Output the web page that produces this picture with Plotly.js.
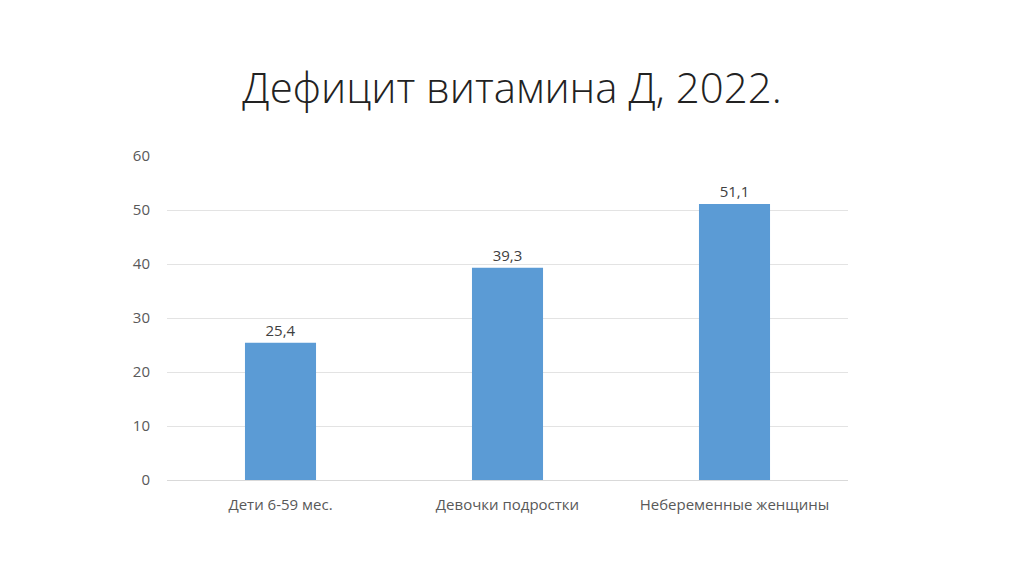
<!DOCTYPE html>
<html>
<head>
<meta charset="utf-8">
<script src="https://cdn.plot.ly/plotly-3.0.1.min.js"></script>
<style>
  html, body { margin: 0; padding: 0; background: #ffffff; }
  #chart { width: 1024px; height: 574px; }
</style>
</head>
<body>
<div id="chart"></div>
<script>
var categories = ["Дети 6-59 мес.", "Девочки подростки", "Небеременные женщины"];
var values = [25.4, 39.3, 51.1];
var valueLabels = ["25,4", "39,3", "51,1"];
var yTicks = [0, 10, 20, 30, 40, 50, 60];

function plotVitaminD() {
  var bars = {
    x: categories,
    y: values,
    type: "bar",
    text: valueLabels,
    textposition: "outside",
    cliponaxis: false,
    textfont: { family: "Open Sans, sans-serif", size: 15, color: "#404040" },
    marker: { color: "#5b9bd5" },
    hoverinfo: "none"
  };
  var layout = {
    width: 1024,
    height: 574,
    paper_bgcolor: "#ffffff",
    plot_bgcolor: "#ffffff",
    margin: { l: 167, r: 176, t: 156, b: 94 },
    bargap: 0.687,
    showlegend: false,
    font: { family: "Open Sans, sans-serif", color: "#595959", size: 15 },
    title: {
      text: "Дефицит витамина Д, 2022.",
      font: { family: "Open Sans, sans-serif", size: 42, color: "#222222", weight: 300 },
      x: 0.5,
      xanchor: "center",
      y: 1 - 88 / 574,
      yanchor: "middle",
      yref: "container"
    },
    xaxis: {
      type: "category",
      showgrid: false,
      showline: true,
      linecolor: "#d9d9d9",
      linewidth: 1,
      ticks: "",
      tickfont: { size: 15, color: "#595959" },
      ticklabelstandoff: 11
    },
    yaxis: {
      range: [0, 60],
      tickvals: yTicks,
      ticktext: yTicks.map(String),
      showgrid: true,
      gridcolor: "#e3e3e3",
      gridwidth: 1,
      zeroline: false,
      showline: false,
      ticks: "",
      tickfont: { size: 15, color: "#595959" },
      ticklabelstandoff: 16
    }
  };
  Plotly.newPlot("chart", [bars], layout, { staticPlot: true });
}
plotVitaminD();
</script>
</body>
</html>
